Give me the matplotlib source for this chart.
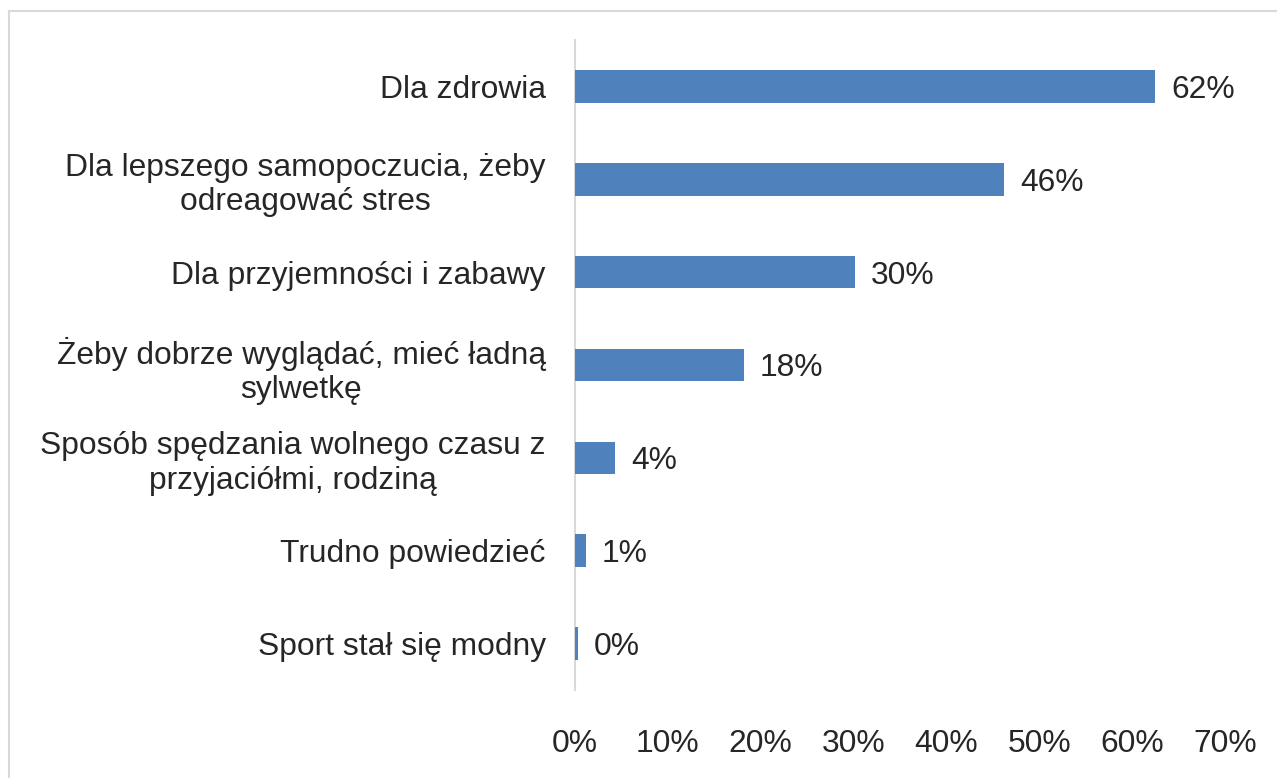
import matplotlib
matplotlib.use("Agg")
import matplotlib.pyplot as plt
from matplotlib.lines import Line2D

plt.rcParams['font.family'] = ['Liberation Sans', 'DejaVu Sans']

categories = [
    "Dla zdrowia",
    "Dla lepszego samopoczucia, żeby\nodreagować stres",
    "Dla przyjemności i zabawy",
    "Żeby dobrze wyglądać, mieć ładną\nsylwetkę",
    "Sposób spędzania wolnego czasu z\nprzyjaciółmi, rodziną",
    "Trudno powiedzieć",
    "Sport stał się modny",
]
values = [62.5, 46.2, 30.1, 18.2, 4.3, 1.2, 0.3]
value_labels = ["62%", "46%", "30%", "18%", "4%", "1%", "0%"]
xticks = [0, 10, 20, 30, 40, 50, 60, 70]
xtick_labels = ["0%", "10%", "20%", "30%", "40%", "50%", "60%", "70%"]

FS = 22.9
W, H = 1277, 778
fig = plt.figure(figsize=(W / 100, H / 100), dpi=100)
ax = fig.add_axes([575 / W, 1 - 690 / H, (1225 - 575) / W, (690 - 40) / H])

ypos = list(range(len(categories)))
ax.barh(ypos, values, height=0.35, color="#4F81BD", zorder=3)
ax.set_ylim(len(categories) - 0.5, -0.5)
ax.set_xlim(0, 70)

for y, v, lab in zip(ypos, values, value_labels):
    ax.annotate(lab, (v, y), xytext=(11.5, -0.36 * FS), textcoords="offset points",
                va="baseline", ha="left", fontsize=FS, color="#262626")

ax.set_yticks(ypos)
ax.set_yticklabels(categories, fontsize=FS, color="#262626",
                   multialignment="center", linespacing=1.2)
ax.set_xticks(xticks)
ax.set_xticklabels(xtick_labels, fontsize=FS, color="#262626")
ax.tick_params(axis="y", length=0, pad=21)
ax.tick_params(axis="x", length=0, pad=28)

for s in ["top", "right", "bottom"]:
    ax.spines[s].set_visible(False)
ax.spines["left"].set_color("#d9d9d9")
ax.spines["left"].set_linewidth(1.5)

# outer chart border (left and top visible)
fig.add_artist(Line2D([8.5 / W, 8.5 / W], [0, 1 - 10.5 / H], transform=fig.transFigure,
                      color="#d9d9d9", lw=1.5))
fig.add_artist(Line2D([8.5 / W, 1], [1 - 10.5 / H, 1 - 10.5 / H], transform=fig.transFigure,
                      color="#d9d9d9", lw=1.5))

fig.savefig("out.png", dpi=100, facecolor="white")
